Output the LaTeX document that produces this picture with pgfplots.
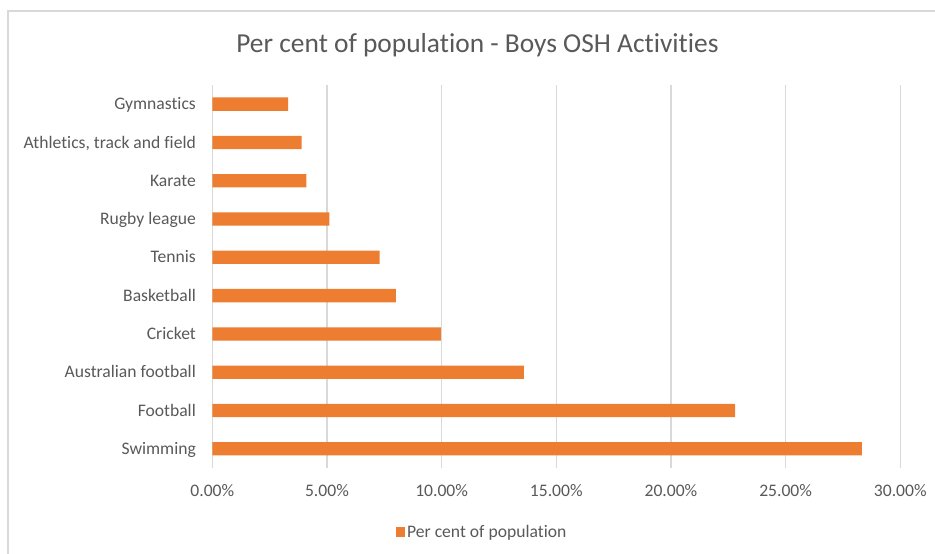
\documentclass[border=0pt]{standalone}
\usepackage{pgfplots}
\pgfplotsset{compat=1.18}
\usepackage{fontspec}
\setmainfont{Carlito}[RawFeature={-liga;-clig;-dlig;-calt}]
\definecolor{barc}{HTML}{ED7D31}
\definecolor{txt}{HTML}{595959}
\definecolor{grd}{HTML}{D9D9D9}
\begin{document}
\begin{tikzpicture}
\useasboundingbox (0,0) rectangle (935pt,554pt);
\draw[grd, line width=1.5pt] (8pt,0pt) -- (8pt,543pt) -- (935pt,543pt);
\node[anchor=base, text=txt, inner sep=0pt, font=\fontsize{27.4}{32}\selectfont] at (477.5pt,501pt) {Per cent of population - Boys OSH Activities};
\begin{axis}[
  at={(212.3pt,86pt)}, anchor=south west, scale only axis,
  width=688pt, height=383pt,
  xbar, bar width=13.3pt,
  xmin=0, xmax=30, ymin=-0.5, ymax=9.5,
  xtick={0,5,...,30}, ytick={0,...,9},
  yticklabels={Swimming, Football, Australian football, Cricket, Basketball, Tennis, Rugby league, Karate, {Athletics, track and field}, Gymnastics},
  xmajorgrids, grid style={grd, line width=1.2pt},
  axis line style={draw=none}, tick style={draw=none},
  xticklabel={\pgfmathprintnumber[fixed,fixed zerofill,precision=2,assume math mode=true]{\tick}\%},
  xticklabel style={anchor=base, inner sep=0pt, yshift=-28.7pt, text=txt, font=\fontsize{17.6}{21}\selectfont},
  yticklabel style={anchor=base east, inner sep=0pt, xshift=-12pt, yshift=-5.6pt, text=txt, font=\fontsize{17.6}{21}\selectfont},
  legend style={at={(0.392,-0.167)}, anchor=center, draw=none, fill=none, font=\fontsize{17.6}{21}\selectfont, text=txt},
  legend image code/.code={\fill[barc] (-1pt,-4.75pt) rectangle (8.5pt,4.75pt);},
]
\addplot[fill=barc, draw=none] coordinates {
  (28.32,0) (22.80,1) (13.59,2) (9.97,3) (8.00,4) (7.30,5) (5.10,6) (4.10,7) (3.90,8) (3.31,9)
};
\addlegendentry{Per cent of population}
\end{axis}
\end{tikzpicture}
\end{document}
